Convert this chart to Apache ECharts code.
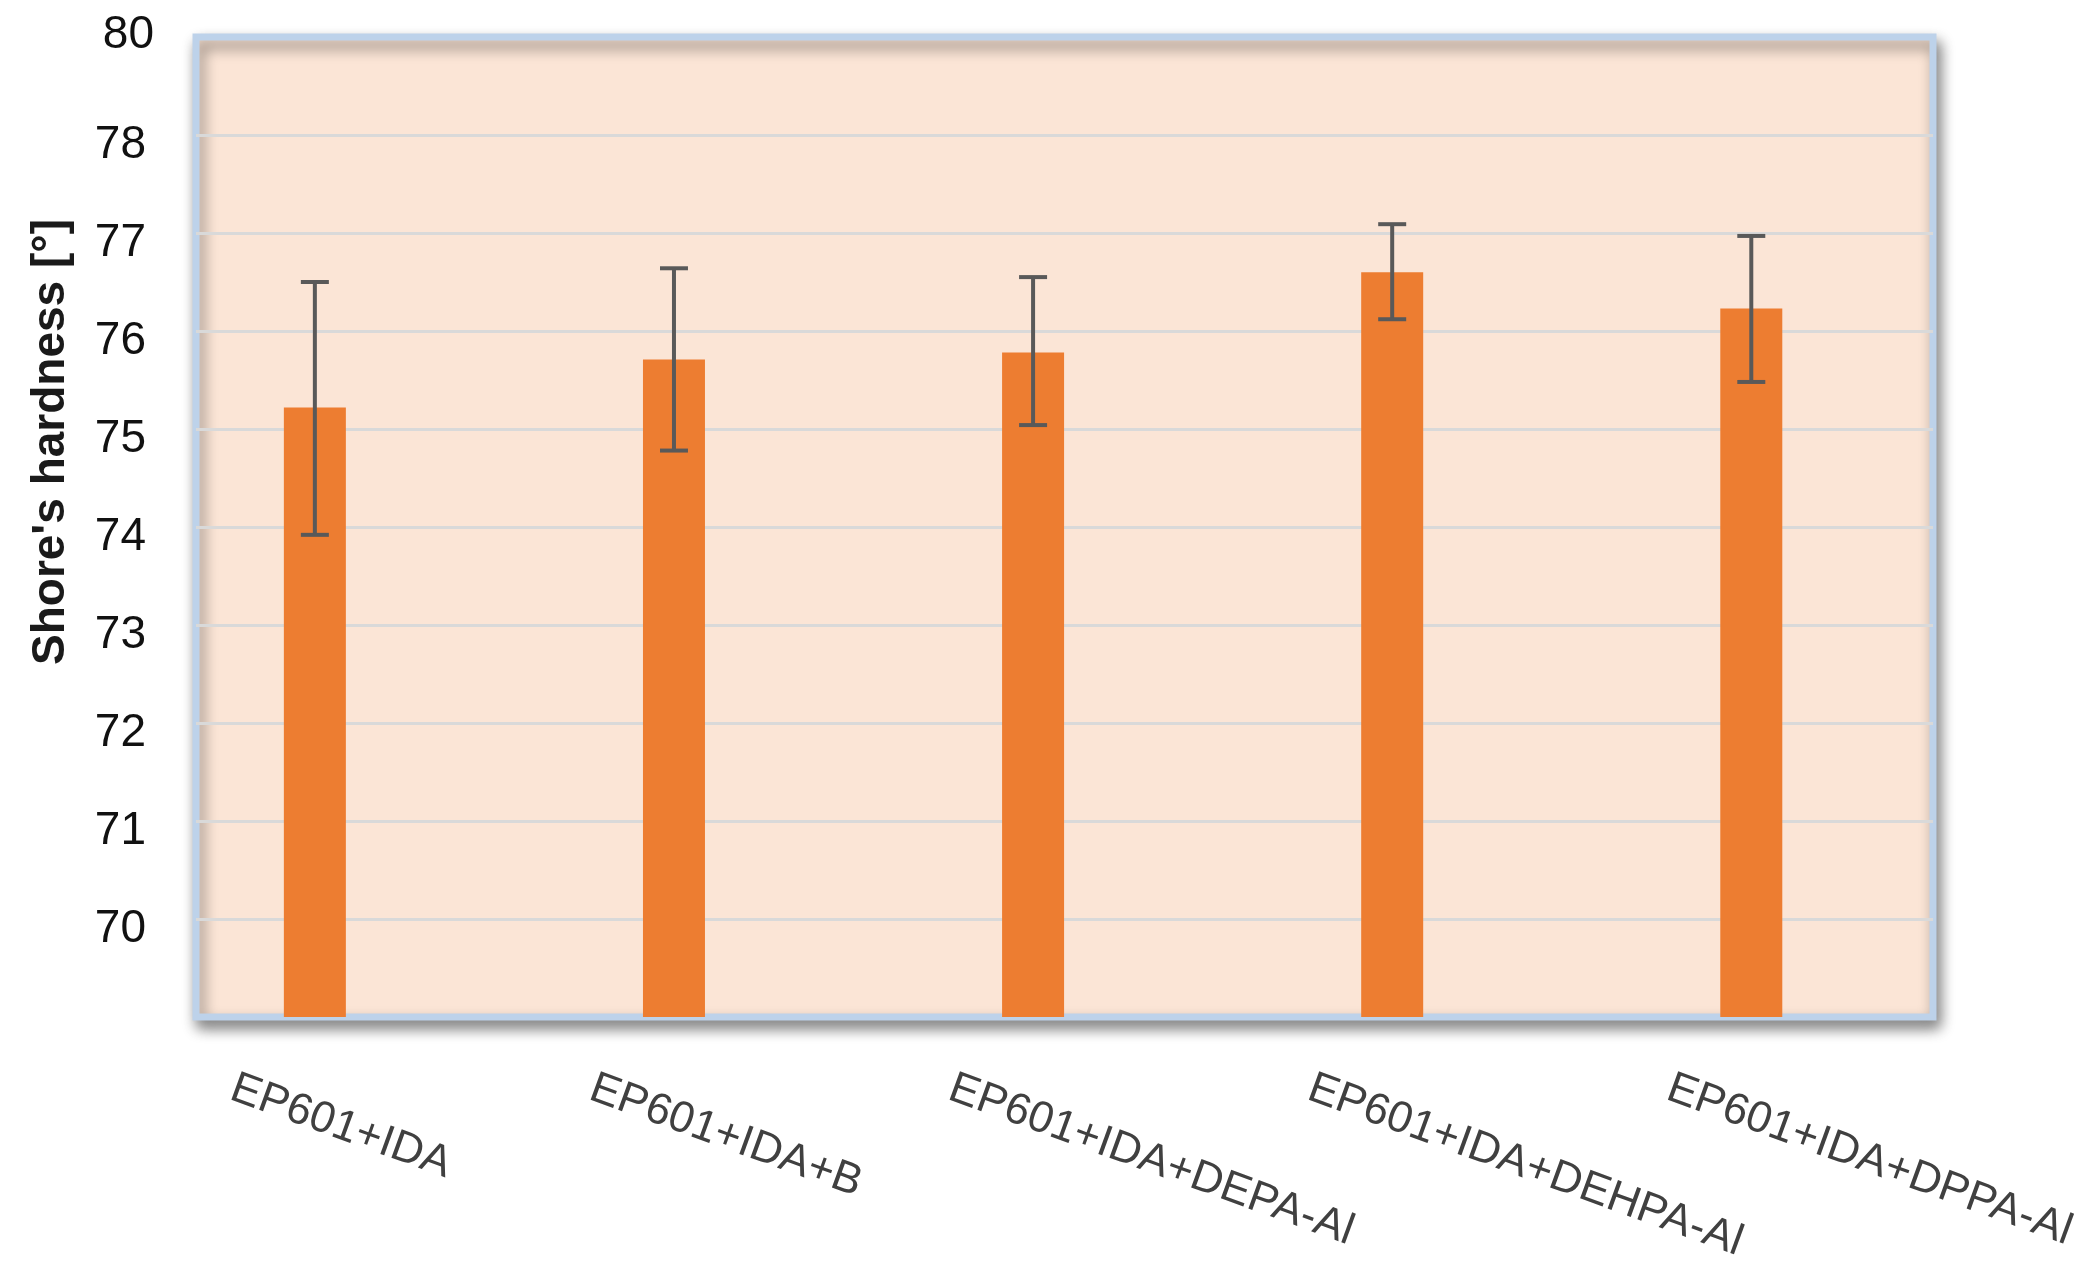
<!DOCTYPE html>
<html>
<head>
<meta charset="utf-8">
<script src="https://cdn.jsdelivr.net/npm/echarts@6/dist/echarts.min.js"></script>
<style>
html,body{margin:0;padding:0;background:#fff;}
#chart{width:2083px;height:1275px;}
</style>
</head>
<body>
<div id="chart"></div>
<script>
// ---- data ----
const categories = ['EP601+IDA', 'EP601+IDA+B', 'EP601+IDA+DEPA-Al', 'EP601+IDA+DEHPA-Al', 'EP601+IDA+DPPA-Al'];
const hardness = [75.22, 75.71, 75.78, 76.60, 76.23];
const errLow = [73.92, 74.78, 75.04, 76.12, 75.48];
const errHigh = [76.50, 76.64, 76.55, 77.09, 76.97];
const yTickValues = [69, 70, 71, 72, 73, 74, 75, 76, 77, 78, 79];
const yTickLabels = ['', '70', '71', '72', '73', '74', '75', '76', '77', '78', '80'];
const yAxisTitle = "Shore's hardness [°]";

// ---- layout / style constants ----
const LABEL_SHIFT = -0.23;
const xPositions = categories.map((c, i) => i);

const chart = echarts.init(document.getElementById('chart'), null, {renderer: 'canvas'});

const option = {
  animation: false,
  backgroundColor: '#ffffff',
  grid: {
    left: 196, right: 150, top: 37, bottom: 258,
    outerBoundsMode: 'none',
    containLabel: false,
    show: true,
    backgroundColor: '#FBE5D6',
    borderColor: '#BDD2EA',
    borderWidth: 7,
    shadowColor: 'rgba(0,0,0,0.45)',
    shadowBlur: 14,
    shadowOffsetX: 4,
    shadowOffsetY: 8
  },
  xAxis: {
    type: 'value',
    min: -0.331,
    max: 4.506,
    axisLine: {show: false},
    axisTick: {show: false},
    splitLine: {show: false},
    axisLabel: {
      customValues: xPositions.map(v => v + LABEL_SHIFT),
      formatter: function (v) { return categories[Math.round(v - LABEL_SHIFT)]; },
      rotate: -20,
      margin: 70,
      fontFamily: 'Liberation Sans',
      fontSize: 44,
      color: '#404040'
    }
  },
  yAxis: {
    type: 'value',
    min: 69,
    max: 79,
    interval: 1,
    name: yAxisTitle,
    nameLocation: 'middle',
    nameGap: 122,
    nameTextStyle: {
      fontFamily: 'Liberation Sans',
      fontWeight: 'bold',
      fontSize: 46,
      color: '#1a1a1a',
      padding: [0, 0, 0, 170]
    },
    axisLine: {show: false},
    axisTick: {show: false},
    splitLine: {
      show: true,
      showMinLine: false,
      showMaxLine: false,
      lineStyle: {color: '#D9D9D9', width: 3}
    },
    axisLabel: {
      margin: 42,
      formatter: function (v) {
        const idx = yTickValues.indexOf(v);
        const txt = idx >= 0 ? yTickLabels[idx] : '';
        if (txt === '') return '';
        return idx === yTickValues.length - 1 ? '{b|' + txt + '}' : '{a|' + txt + '}';
      },
      rich: {
        a: {fontFamily: 'Liberation Sans', fontSize: 46, color: '#111', padding: [20, 8, 0, 0]},
        b: {fontFamily: 'Liberation Sans', fontSize: 46, color: '#111', padding: [0, 0, 4, 0]}
      }
    }
  },
  series: [
    {
      type: 'bar',
      barWidth: 62,
      data: xPositions.map((x, i) => [x, hardness[i]]),
      itemStyle: {color: '#ED7D31'},
      z: 2
    },
    {
      type: 'custom',
      z: 3,
      data: xPositions.map((x, i) => [x, errLow[i], errHigh[i]]),
      renderItem: function (params, api) {
        const x = api.value(0);
        const lo = api.coord([x, api.value(1)]);
        const hi = api.coord([x, api.value(2)]);
        const half = 14;
        const st = {stroke: '#595959', lineWidth: 4};
        return {
          type: 'group',
          children: [
            {type: 'line', shape: {x1: hi[0], y1: hi[1], x2: lo[0], y2: lo[1]}, style: st},
            {type: 'line', shape: {x1: hi[0] - half, y1: hi[1], x2: hi[0] + half, y2: hi[1]}, style: st},
            {type: 'line', shape: {x1: lo[0] - half, y1: lo[1], x2: lo[0] + half, y2: lo[1]}, style: st}
          ]
        };
      }
    }
  ]
};
chart.setOption(option);
</script>
</body>
</html>
